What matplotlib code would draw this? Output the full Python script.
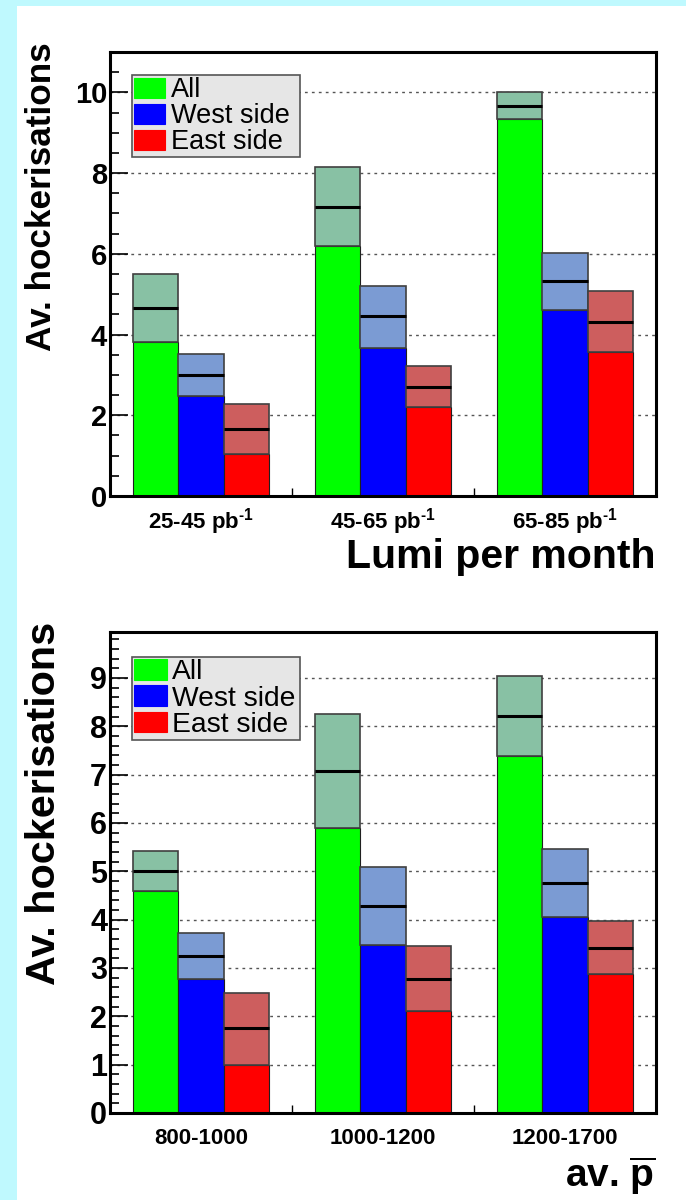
import matplotlib
matplotlib.use("Agg")
import matplotlib.pyplot as plt
from matplotlib.patches import Patch, Rectangle
from matplotlib.ticker import MultipleLocator, FixedLocator

plt.rcParams['font.family'] = ['Liberation Sans', 'DejaVu Sans']
plt.rcParams['mathtext.fontset'] = 'custom'
plt.rcParams['mathtext.rm'] = 'Liberation Sans:bold'
plt.rcParams['mathtext.bf'] = 'Liberation Sans:bold'
plt.rcParams['mathtext.it'] = 'Liberation Sans:bold'
plt.rcParams['mathtext.default'] = 'rm'

# ---------------- data ----------------
series_names = ['All', 'West side', 'East side']

top_categories = ['25-45 pb$^{\u2010 1}$', '45-65 pb$^{\u2010 1}$', '65-85 pb$^{\u2010 1}$']
top_all_lo = [3.82, 6.19, 9.33]
top_all_mid = [4.65, 7.17, 9.67]
top_all_hi = [5.50, 8.15, 10.00]
top_west_lo = [2.48, 3.67, 4.60]
top_west_mid = [3.00, 4.45, 5.32]
top_west_hi = [3.51, 5.21, 6.03]
top_east_lo = [1.03, 2.21, 3.56]
top_east_mid = [1.66, 2.71, 4.32]
top_east_hi = [2.27, 3.22, 5.07]

bot_categories = ['800-1000', '1000-1200', '1200-1700']
bot_all_lo = [4.59, 5.90, 7.39]
bot_all_mid = [5.00, 7.08, 8.21]
bot_all_hi = [5.41, 8.26, 9.04]
bot_west_lo = [2.77, 3.47, 4.06]
bot_west_mid = [3.25, 4.28, 4.76]
bot_west_hi = [3.73, 5.09, 5.46]
bot_east_lo = [1.00, 2.11, 2.88]
bot_east_mid = [1.75, 2.78, 3.42]
bot_east_hi = [2.49, 3.46, 3.98]

solid_colors = ['#00ff00', '#0000ff', '#ff0000']
band_colors = ['#88c1a4', '#7b9bd3', '#cd5e5e']

W, H = 686, 1200
fig = plt.figure(figsize=(W / 100, H / 100), dpi=100)
fig.patch.set_facecolor('#bff9fe')
fig.patches.append(Rectangle((17 / W, 0), 1, 1 - 6 / H, transform=fig.transFigure,
                             facecolor='white', edgecolor='none', zorder=-5))


def px_axes(left, top, right, bottom):
    return fig.add_axes([left / W, 1 - bottom / H, (right - left) / W, (bottom - top) / H])


def draw_panel(ax, cats, lo, mid, hi, ymax, major, minor, ticksize, xpad,
               leg_size, leg_h):
    nb = len(cats)
    width = 0.25
    for k in range(3):
        lefts = [i + 0.125 + k * width for i in range(nb)]
        ax.bar(lefts, lo[k], width=width, align='edge', color=solid_colors[k],
               edgecolor='#202020', linewidth=0.8, zorder=2)
        ax.bar(lefts, [h - l for h, l in zip(hi[k], lo[k])], bottom=lo[k], width=width,
               align='edge', color=band_colors[k], edgecolor='#404040', linewidth=1.2, zorder=3)
        ax.hlines(mid[k], lefts, [x + width for x in lefts], colors='black', linewidth=2.2, zorder=4)
    ax.set_xlim(0, nb)
    ax.set_ylim(0, ymax)
    ax.set_xticks([i + 0.5 for i in range(nb)])
    ax.set_xticklabels(cats, fontsize=16, fontweight='bold')
    ax.xaxis.set_minor_locator(FixedLocator(list(range(1, nb))))
    ax.tick_params(axis='x', which='major', length=0, pad=xpad)
    ax.tick_params(axis='x', which='minor', direction='in', length=6, width=1, top=False)
    ax.yaxis.set_major_locator(MultipleLocator(major))
    ax.yaxis.set_minor_locator(MultipleLocator(minor))
    ax.tick_params(axis='y', which='major', direction='in', length=13, width=1.2,
                   labelsize=ticksize, pad=2, right=False)
    ax.tick_params(axis='y', which='minor', direction='in', length=6.5, width=1.2, right=False)
    for lab in ax.get_yticklabels():
        lab.set_fontweight('bold')
    ax.yaxis.grid(True, which='major', linestyle=(0, (2, 3)), color='#555555', linewidth=1)
    ax.set_axisbelow(True)
    for s in ax.spines.values():
        s.set_linewidth(2.2)
        s.set_color('black')
    handles = [Patch(facecolor=c, edgecolor=c, linewidth=0.8) for c in solid_colors]
    box_w = 168 / 546
    leg = ax.legend(handles, series_names, loc='upper left',
                    bbox_to_anchor=(0.0403, 0.948 - leg_h, box_w, leg_h), mode='expand',
                    borderaxespad=0, fancybox=False, framealpha=1, facecolor='#e6e6e6',
                    edgecolor='#555555', prop={'family': 'Liberation Sans', 'size': leg_size},
                    handlelength=1.15, handleheight=0.75, handletextpad=0.2,
                    labelspacing=0.0, borderpad=0.08)
    leg.get_frame().set_linewidth(1.2)
    leg.set_zorder(10)


ax1 = px_axes(110, 52, 656, 496)
draw_panel(ax1, top_categories,
           [top_all_lo, top_west_lo, top_east_lo],
           [top_all_mid, top_west_mid, top_east_mid],
           [top_all_hi, top_west_hi, top_east_hi],
           11.0, 2, 0.5, 21, 7, 19.5, 75 / 444)

ax2 = px_axes(110, 632, 656, 1113)
draw_panel(ax2, bot_categories,
           [bot_all_lo, bot_west_lo, bot_east_lo],
           [bot_all_mid, bot_west_mid, bot_east_mid],
           [bot_all_hi, bot_west_hi, bot_east_hi],
           9.95, 1, 0.2, 22, 11, 20.3, 81 / 481)

fig.text(42 / W, 1 - 42 / H, 'Av. hockerisations', rotation=90, ha='center', va='top',
         fontsize=25.3, fontweight='bold')
fig.text(44 / W, 1 - 622 / H, 'Av. hockerisations', rotation=90, ha='center', va='top',
         fontsize=29.8, fontweight='bold')

fig.text(656 / W, 1 - 568 / H, 'Lumi per month', ha='right', va='baseline',
         fontsize=29.5, fontweight='bold')
fig.text(656 / W, 1 - 1187 / H, r'av. $\overline{\mathrm{p}}$', ha='right', va='baseline',
         fontsize=28, fontweight='bold')

fig.savefig('out.png', dpi=100, facecolor=fig.get_facecolor())
